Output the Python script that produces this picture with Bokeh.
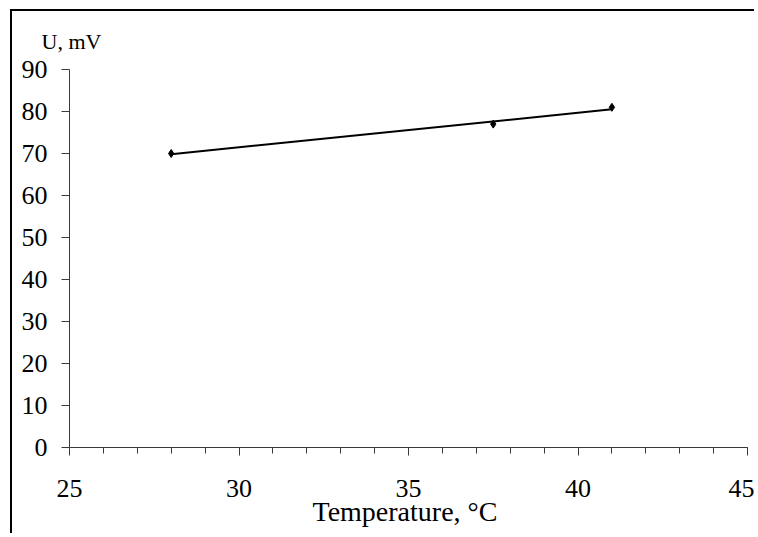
import numpy as np
from bokeh.plotting import figure
from bokeh.models import SingleIntervalTicker, Range1d
from bokeh.embed import file_html
from bokeh.resources import INLINE

# Data
temperature = [28.0, 37.5, 41.0]
voltage = [70.0, 77.0, 81.0]
x_ticks_interval = 5
y_ticks_interval = 10
x_label = "Temperature,  °C"
y_label = "U, mV"

FONT = "Liberation Serif"
AXIS_COLOR = "#3a3a3a"

p = figure(width=744, height=524, output_backend="svg", toolbar_location=None,
           x_range=Range1d(25, 45), y_range=Range1d(0, 90),
           min_border_left=57, min_border_right=9, min_border_top=57, min_border_bottom=88)
p.margin = (9, 0, 0, 10)
p.styles = {"border-top": "2px solid black", "border-left": "2px solid black"}

p.grid.visible = False
p.outline_line_color = None
p.background_fill_color = "white"
p.border_fill_color = "white"

# y-axis title shown at the top-left, above the axis
p.title.text = y_label
p.title.align = "left"
p.title.offset = -28
p.title.standoff = 31
p.title.text_font = FONT
p.title.text_font_size = "22px"
p.title.text_font_style = "normal"
p.title.text_color = "black"

# x axis
xa = p.xaxis[0]
xa.ticker = SingleIntervalTicker(interval=x_ticks_interval, num_minor_ticks=5)
xa.axis_line_color = AXIS_COLOR
xa.major_tick_line_color = AXIS_COLOR
xa.minor_tick_line_color = AXIS_COLOR
xa.major_tick_in = 0
xa.major_tick_out = 8
xa.minor_tick_in = 0
xa.minor_tick_out = 6
xa.major_label_text_font = FONT
xa.major_label_text_font_size = "26px"
xa.major_label_text_color = "black"
xa.major_label_standoff = 24
xa.axis_label = x_label
xa.axis_label_text_font = FONT
xa.axis_label_text_font_size = "28px"
xa.axis_label_text_font_style = "normal"
xa.axis_label_text_color = "black"
xa.axis_label_standoff = -4

# y axis
ya = p.yaxis[0]
ya.ticker = SingleIntervalTicker(interval=y_ticks_interval, num_minor_ticks=0)
ya.axis_line_color = AXIS_COLOR
ya.major_tick_line_color = AXIS_COLOR
ya.minor_tick_line_color = None
ya.major_tick_in = 0
ya.major_tick_out = 8
ya.major_label_text_font = FONT
ya.major_label_text_font_size = "26px"
ya.major_label_text_color = "black"
ya.major_label_standoff = 14

# Trend line (least-squares fit of the data)
slope, intercept = np.polyfit(temperature, voltage, 1)
tx = [min(temperature), max(temperature)]
ty = [slope * t + intercept for t in tx]
p.line(tx, ty, line_color="black", line_width=2)

# Data points
p.scatter(temperature, voltage, marker="diamond", size=8, color="black")

open("out.html", "w").write(file_html(p, INLINE))
